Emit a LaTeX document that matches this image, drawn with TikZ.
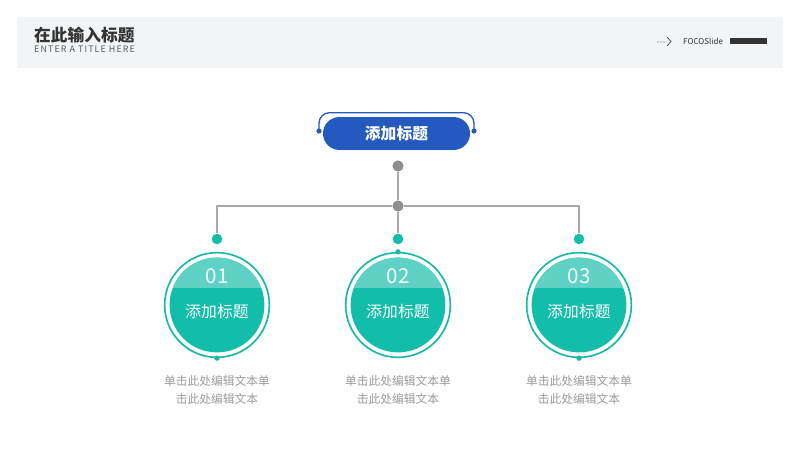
\documentclass[tikz,border=0pt]{standalone}
\usepackage{fontspec}
\setmainfont{Noto Sans CJK SC}
\usetikzlibrary{positioning}

\definecolor{bandgray}{HTML}{F2F4F5}
\definecolor{headblue}{HTML}{2459BF}
\definecolor{tealdark}{HTML}{12BEAA}
\definecolor{teallight}{HTML}{5FD2C5}
\definecolor{tealring}{HTML}{16B8A6}
\definecolor{linegray}{HTML}{A8A8A8}
\definecolor{dotgray}{HTML}{8E8E8E}
\definecolor{textgray}{HTML}{9A9A9A}

\begin{document}
\begin{tikzpicture}[
        x = 0.85pt, y = -0.85pt,
        hub/.style = {circle, fill = dotgray, inner sep = 0pt, minimum size = 9.5pt},
        pin/.style = {circle, fill = tealdark, inner sep = 0pt, minimum size = 9pt},
        tick/.style = {circle, fill = tealring, inner sep = 0pt, minimum size = 4.5pt},
        wire/.style = {draw = linegray, line width = 1.1pt},
        pill/.style = {rectangle, rounded corners = 14pt, fill = headblue, text = white,
                       minimum width = 125pt, minimum height = 28pt,
                       font = \bfseries\fontsize{13.4}{16}\selectfont},
        ring/.style = {circle, draw = tealring, line width = 1.4pt, fill = white,
                       inner sep = 0pt, minimum size = 89pt},
        num/.style = {text = white!92!teallight, font = \fontsize{17.5}{20}\selectfont},
        caption/.style = {text = white, font = \fontsize{13.4}{16}\selectfont},
        desc/.style = {text = textgray, align = center, font = \fontsize{10}{15.3}\selectfont}
    ]

      \useasboundingbox (0,0) rectangle (800,450);

      % header band
      \fill[bandgray] (17,17) rectangle (783,68);
      \node[anchor = west, inner sep = 0pt, text = black!80,
            font = \bfseries\fontsize{14.2}{16}\selectfont] (title) at (34,35) {在此输入标题};
      \node[anchor = west, inner sep = 0pt, text = black!65,
            font = \addfontfeature{LetterSpace=12}\fontsize{7.6}{9}\selectfont] (subtitle) at (34,49) {ENTER A TITLE HERE};

      \foreach \d in {658, 661, 664} \fill[black!75] (\d,42) circle (0.45pt);
      \draw[black!75, line width = 0.6pt] (667,37) -- (671,41.5) -- (667,46);
      \node[anchor = west, inner sep = 0pt, text = black!80,
            font = \fontsize{6.8}{8}\selectfont] (brand) at (683,41) {FOCOSlide};
      \fill[black!80] (730,38) rectangle (767,44);

      % top title
      \node[pill] (head) at (396.5,133.5) {添加标题};
      \coordinate (capL) at (319,131);
      \coordinate (capR) at (474,131);
      \draw[headblue, line width = 1.1pt, rounded corners = 9pt]
            (capL) |- ([yshift = 3.5pt]head.north) -| (capR);
      \fill[headblue] (capL) circle (2.2pt) (capR) circle (2.2pt);

      % tree
      \node[hub] (hub1) at (398,166) {};
      \node[hub] (hub2) at (398,206) {};
      \node[pin] (pin1) at (217,239) {};
      \node[pin] (pin2) at (398,239) {};
      \node[pin] (pin3) at (579,239) {};

      \draw[wire] (hub1) -- (hub2);
      \draw[wire] (hub2) -- (pin2);
      \draw[wire] (pin1) |- (hub2);
      \draw[wire] (hub2) -| (pin3);

      % circles
      \foreach \n/\x/\side in {1/217/south, 2/398/north, 3/579/south} {
          \node[ring] (ring\n) at (\x,305) {};
          \begin{scope}
              \clip (\x,305) circle [radius = 40.3pt];
              \fill[tealdark] (\x-50,255) rectangle (\x+50,355);
              \fill[teallight] (\x-50,255) rectangle (\x+50,288);
          \end{scope}
          \node[tick] at (ring\n.\side) {};
          \node[num] (num\n) at (\x,276) {0\n};
          \node[caption] (cap\n) at (\x,312) {添加标题};
          \node[desc] (desc\n) at (\x,390) {单击此处编辑文本单\\击此处编辑文本};
      }

    \end{tikzpicture}
\end{document}
